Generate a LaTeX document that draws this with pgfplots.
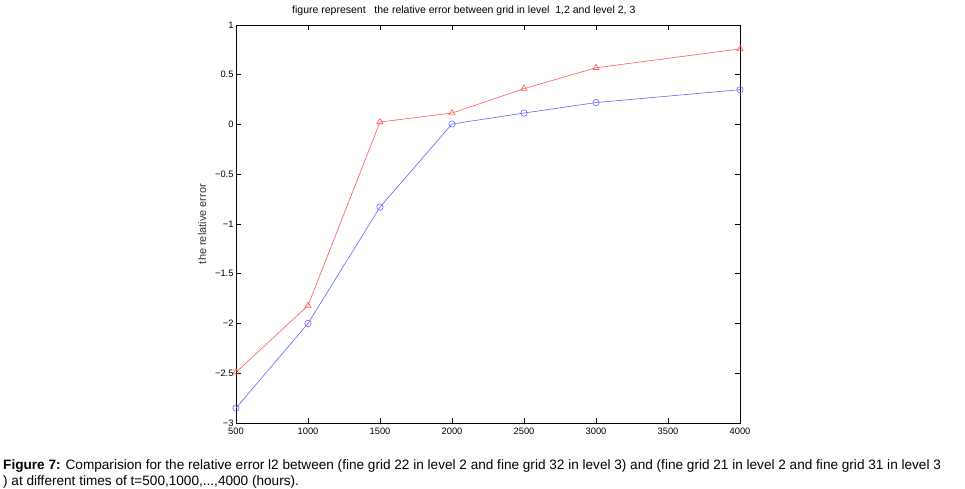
\documentclass[border=0pt]{standalone}
\usepackage{pgfplots}
\pgfplotsset{compat=1.18}
\usepackage{fontspec}
\setmainfont{Liberation Sans}
\definecolor{mred}{RGB}{255,90,90}
\definecolor{mblue}{RGB}{100,100,255}
\begin{document}
\begin{tikzpicture}
\useasboundingbox (0,0) rectangle (965pt,489pt);
\begin{axis}[
  at={(236pt,66pt)}, anchor=south west,
  scale only axis, width=504pt, height=398pt,
  xmin=500, xmax=4000, ymin=-3, ymax=1,
  xtick={500,1000,1500,2000,2500,3000,3500,4000},
  xticklabels={500,1000,1500,2000,2500,3000,3500,4000},
  ytick={-3,-2.5,-2,-1.5,-1,-0.5,0,0.5,1},
  yticklabels={−3,−2.5,−2,−1.5,−1,−0.5,0,0.5,1},
  tick align=inside, major tick length=5pt,
  xtick pos=both, ytick pos=both,
  ticklabel style={font=\fontsize{9.3}{10}\selectfont},
  xticklabel style={yshift=-1pt},
  yticklabel style={xshift=1pt},
  tick style={black, line width=0.6pt},
  axis line style={line width=0.8pt},
  title={figure represent\ \ \ the relative error between grid in level\ \ 1,2 and level 2, 3},
  title style={font=\fontsize{10.5}{12}\selectfont, at={(0.452,1)}, yshift=0pt},
  ylabel={the relative error},
  ylabel style={font=\fontsize{11}{12}\selectfont, text=black!80, yshift=2pt},
  every axis plot/.append style={line width=0.6pt},
]
\addplot[mred, mark=triangle, mark size=3.5pt, mark options={solid}] coordinates {
 (500,-2.49) (1000,-1.82) (1500,0.025) (2000,0.115) (2500,0.36) (3000,0.57) (4000,0.76)};
\addplot[mblue, mark=o, mark size=3.2pt] coordinates {
 (500,-2.85) (1000,-2.0) (1500,-0.83) (2000,0.005) (2500,0.115) (3000,0.22) (4000,0.35)};
\end{axis}
\node[anchor=west, inner sep=0pt, font=\fontsize{13.6}{16}\selectfont] at (3pt,23pt) {\textbf{Figure 7:} Comparision for the relative error l2 between (fine grid 22 in level 2 and fine grid 32 in level 3) and (fine grid 21 in level 2 and fine grid 31 in level 3};
\node[anchor=west, inner sep=0pt, font=\fontsize{13.6}{16}\selectfont] at (3pt,7pt) {) at different times of t=500,1000,...,4000 (hours).};
\end{tikzpicture}
\end{document}
